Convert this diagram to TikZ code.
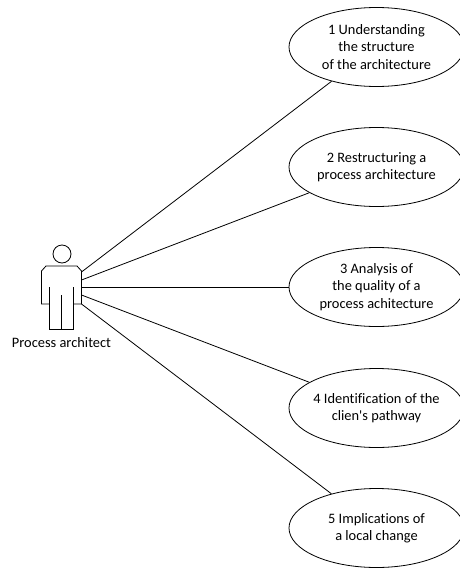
\documentclass[tikz,border=0pt]{standalone}
\usepackage{fontspec}
\setmainfont[Ligatures=NoCommon]{Carlito}
\usetikzlibrary{shapes.geometric}
\begin{document}
\begin{tikzpicture}[x=1pt,y=-1pt]
    \tikzset{UseCaseStyle/.style = {%
        shape= ellipse,
        draw,
        line width= 0.8pt,
        inner xsep= -30pt,
        inner ysep= -20pt,
        minimum width= 175pt,
        minimum height= 79pt,
        align= center,
        font= \fontsize{14.4}{17.3}\selectfont}}
    \tikzset{ActorStyle/.style = {line width= 0.8pt}}
    \tikzset{LinkStyle/.style = {line width= 0.8pt}}
    \useasboundingbox (0,0) rectangle (459,568);
    % use cases
    \node[UseCaseStyle] (Case1) at (376.5,47) {1 Understanding\\the structure\\of the architecture};
    \node[UseCaseStyle] (Case2) at (376.5,167) {2 Restructuring a\\process architecture};
    \node[UseCaseStyle] (Case3) at (376.5,287) {3 Analysis of\\the quality of a\\process achitecture};
    \node[UseCaseStyle] (Case4) at (376.5,408) {4 Identification of the\\clien\textquotesingle s pathway};
    \node[UseCaseStyle] (Case5) at (376.5,528) {5 Implications of\\a local change};
    % actor
    \node[ActorStyle,shape=circle,draw,inner sep=0pt,minimum size=18pt] (Head) at (62,254) {};
    \draw[ActorStyle] (49.5,287) -- (49.5,304) -- (41.5,304) -- (41.5,271) -- (46,266)
        -- (77,266) -- (81.5,271) -- (81.5,304) -- (73.5,304) -- (73.5,287);
    \draw[ActorStyle] (49.5,304) -- (49.5,329) -- (73.5,329) -- (73.5,304);
    \draw[ActorStyle] (61.5,295) -- (61.5,329);
    \node[font=\fontsize{14.4}{14}\selectfont,inner sep=0pt] (Actor) at (61.5,343) {Process architect};
    \coordinate (Arm1) at (81.5,272);
    \coordinate (Arm2) at (81.5,280);
    \coordinate (Arm3) at (81.5,287);
    \coordinate (Arm4) at (81.5,295);
    \coordinate (Arm5) at (81.5,304);
    \foreach \i in {1,...,5}
        \draw[LinkStyle] (Arm\i) -- (Case\i);
\end{tikzpicture}
\end{document}
